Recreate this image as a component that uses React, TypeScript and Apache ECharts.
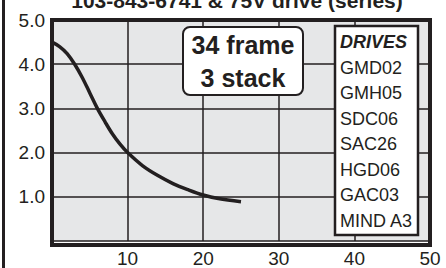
import React, { useEffect, useRef } from "react";
import * as echarts from "echarts";

const titleText = "103-843-6741 & 75V drive (series)";
const xValues = [0, 1, 2, 3, 4, 5, 6, 7, 8, 9, 10, 12, 14, 16, 18, 20, 22, 25];
const yValues = [4.5, 4.4, 4.24, 4.0, 3.7, 3.35, 3.0, 2.7, 2.42, 2.19, 2.0, 1.7, 1.48, 1.3, 1.16, 1.04, 0.96, 0.89];
const annotationLines = ["34 frame", "3 stack"];
const drivesTitle = "DRIVES";
const drives = ["GMD02", "GMH05", "SDC06", "SAC26", "HGD06", "GAC03", "MIND A3"];

const INK = "#231f20";
const FONT = "'Liberation Sans', Arial, Helvetica, sans-serif";

export default function App() {
  const ref = useRef<HTMLDivElement>(null);
  useEffect(() => {
    if (!ref.current) return;
    const chart = echarts.init(ref.current, undefined, { renderer: "svg" });
    const data = xValues.map((x, i) => [x, yValues[i]]);
    const graphics: any[] = [
      {
        type: "rect",
        shape: { x: 2, y: 0, width: 3, height: 268 },
        style: { fill: INK },
        z: 100,
      },
      {
        type: "text",
        x: 237,
        y: 0.7,
        style: {
          text: titleText,
          font: `bold 21px ${FONT}`,
          fill: INK,
          align: "center",
          verticalAlign: "middle",
        },
        z: 100,
      },
      {
        type: "rect",
        shape: { x: 183, y: 27, width: 120, height: 68, r: 7 },
        style: { fill: "#ffffff", stroke: INK, lineWidth: 2 },
        z: 100,
      },
      ...annotationLines.map((t, i) => ({
        type: "text",
        x: 243,
        y: 45 + i * 33,
        style: {
          text: t,
          font: `bold 25px ${FONT}`,
          fill: INK,
          align: "center",
          verticalAlign: "middle",
        },
        z: 101,
      })),
      {
        type: "rect",
        shape: { x: 335, y: 26, width: 83, height: 209 },
        style: { fill: "#ffffff", stroke: INK, lineWidth: 2.5 },
        z: 100,
      },
      {
        type: "text",
        x: 340,
        y: 42,
        style: {
          text: drivesTitle,
          font: `italic bold 18px ${FONT}`,
          fill: INK,
          align: "left",
          verticalAlign: "middle",
        },
        z: 101,
      },
      ...drives.map((t, i) => ({
        type: "text",
        x: 340,
        y: 67.5 + i * 25.5,
        style: {
          text: t,
          font: `18px ${FONT}`,
          fill: INK,
          align: "left",
          verticalAlign: "middle",
        },
        z: 101,
      })),
    ];
    chart.setOption({
      animation: false,
      backgroundColor: "#ffffff",
      grid: {
        left: 52,
        top: 20,
        right: 16,
        bottom: 23,
        show: true,
        backgroundColor: "#e6e7e8",
        borderColor: "transparent",
        borderWidth: 0,
      },
      xAxis: {
        type: "value",
        min: 0,
        max: 50,
        interval: 10,
        axisLine: { show: false },
        axisTick: { show: false },
        splitLine: { show: true, lineStyle: { color: INK, width: 1.5 } },
        axisLabel: {
          color: INK,
          fontSize: 19,
          fontFamily: FONT,
          margin: 8,
          formatter: (v: number) => (v === 0 ? "" : String(v)),
        },
      },
      yAxis: {
        type: "value",
        min: 0,
        max: 5,
        interval: 1,
        axisLine: { show: false },
        axisTick: { show: false },
        splitLine: { show: true, lineStyle: { color: INK, width: 1.5 } },
        axisLabel: {
          color: INK,
          fontSize: 19,
          fontFamily: FONT,
          margin: 7,
          formatter: (v: number) => (v === 0 ? "" : v.toFixed(1)),
        },
      },
      series: [
        {
          type: "line",
          data,
          smooth: 0.35,
          showSymbol: false,
          symbol: "none",
          lineStyle: { color: INK, width: 3.5 },
          z: 10,
        },
      ],
      graphic: [
        {
          type: "rect",
          shape: { x: 52, y: 20, width: 378, height: 225 },
          style: { fill: "none", stroke: INK, lineWidth: 4 },
          z: 50,
        },
        ...graphics,
      ],
    });
    return () => chart.dispose();
  }, []);
  return (
    <div
      ref={ref}
      style={{ position: "absolute", left: 0, top: 0, width: 446, height: 268 }}
    />
  );
}
